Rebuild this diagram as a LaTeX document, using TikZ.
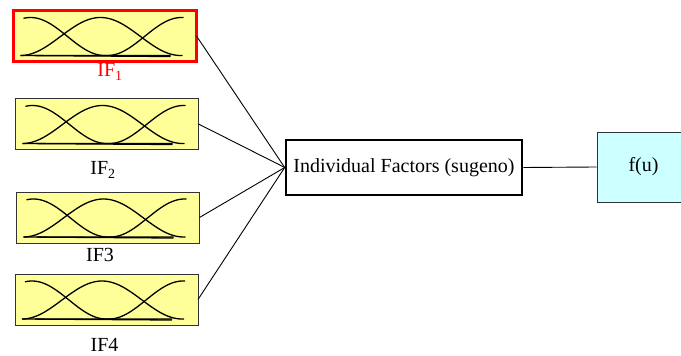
\documentclass[tikz,border=0pt]{standalone}
\usepackage{fontspec}
\setmainfont{Liberation Serif}
\usetikzlibrary{positioning}
\definecolor{mfyellow}{RGB}{255,255,153}
\definecolor{outcyan}{RGB}{204,255,255}
\definecolor{ifred}{RGB}{255,0,0}

\begin{document}
\begin{tikzpicture}[x=1pt, y=1pt,
    mfbox/.style={draw=black!80, line width=0.9pt, fill=mfyellow, minimum width=183pt, minimum height=51pt, inner sep=0pt, outer sep=0pt},
    mfcurve/.style={line width=1.3pt, black},
    lbl/.style={font=\fontsize{20}{24}\selectfont},
    conn/.style={line width=0.9pt, black}]
    \useasboundingbox (0,0) rectangle (681,356);

    % Input boxes
    \node[mfbox, draw=ifred, line width=3pt] (if1) at (105,320) {};
    \node[mfbox] (if2) at (107,232) {};
    \node[mfbox] (if3) at (108,138.5) {};
    \node[mfbox] (if4) at (106.5,56.5) {};

    % Labels
    \node[lbl, text=ifred] (if1lbl) at (110,284) {IF\textsubscript{1}};
    \node[lbl] (if2lbl) at (103,186) {IF\textsubscript{2}};
    \node[lbl] (if3lbl) at (100,101) {IF3};
    \node[lbl] (if4lbl) at (104.5,11) {IF4};

    % Membership curves
    \foreach \b in {if1,if2,if3,if4} {
        \begin{scope}[shift={(\b.north west)}]
            \draw[mfcurve] plot[domain=10:157, samples=70, smooth] (\x, {-45+19*(1+cos(180*min(abs(\x-17),74)/74))});
            \draw[mfcurve] plot[domain=7:169, samples=70, smooth] (\x, {-45+19*(1+cos(180*min(abs(\x-87),80)/80))});
            \draw[mfcurve] plot[domain=20:170, samples=70, smooth] (\x, {-45+19*(1+cos(180*min(abs(\x-168),74)/74))});
            \draw[mfcurve] (7,-45) -- (157,-46);
        \end{scope}
    }

    % Rule block and output
    \node[draw, line width=2.6pt, minimum width=236pt, minimum height=55pt, lbl] (ifs) at (404,188.5) {Individual Factors (sugeno)};
    \node[draw=black!80, line width=0.9pt, fill=outcyan, minimum width=93pt, minimum height=70pt, lbl] (fu) at (643.5,189) {f(u)};

    % Connectors
    \draw[conn] (if1.east) -- (ifs.west);
    \draw[conn] (if2.east) -- (ifs.west);
    \draw[conn] (if3.east) -- (ifs.west);
    \draw[conn] (if4.east) -- (ifs.west);
    \draw[conn] (ifs.east) -- (fu.west);
\end{tikzpicture}
\end{document}
